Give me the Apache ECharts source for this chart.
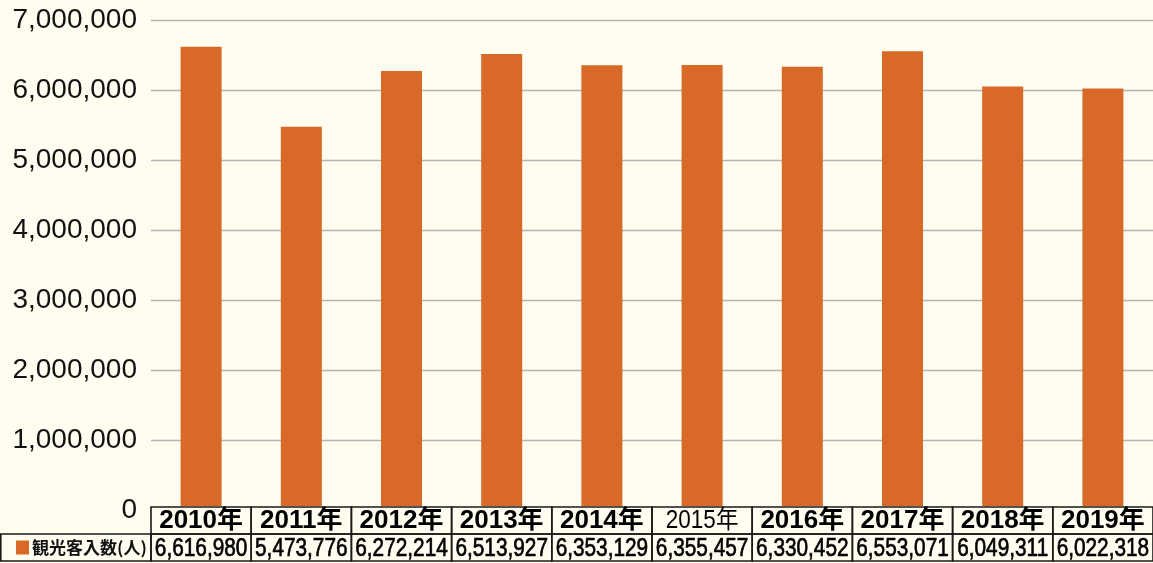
<!DOCTYPE html>
<html>
<head>
<meta charset="utf-8">
<script src="https://cdn.jsdelivr.net/npm/echarts@6/dist/echarts.min.js"></script>
<style>
    html, body { margin: 0; padding: 0; background: #FFFDEF; }
    #chart { width: 1153px; height: 563px; }
</style>
</head>
<body>
<div id="chart"></div>
<script>
    var years = ['2010年', '2011年', '2012年', '2013年', '2014年', '2015年', '2016年', '2017年', '2018年', '2019年'];
    var visitors = [6616980, 5473776, 6272214, 6513927, 6353129, 6355457, 6330452, 6553071, 6049311, 6022318];
    var seriesName = '観光客入数(人)';
    var boldYears = [true, true, true, true, true, false, true, true, true, true];

    var BG = '#FFFDEF';
    var BAR = '#D86926';
    var LINE = '#1a1a1a';

    function fmt(v) {
        return String(v).replace(/\B(?=(\d{3})+(?!\d))/g, ',');
    }

    var chart = echarts.init(document.getElementById('chart'));
    chart.setOption({
        backgroundColor: BG,
        animation: false,
        grid: { left: 151, right: 0, top: 20, bottom: 53 },
        legend: {
            left: 16,
            top: 539,
            padding: 0,
            itemWidth: 13,
            itemHeight: 14,
            icon: 'rect',
            data: [seriesName],
            z: 20,
            textStyle: {
                fontFamily: '"Noto Sans CJK JP", sans-serif',
                fontWeight: 'bold',
                fontSize: 17,
                color: '#111',
                padding: [0, 0, 0, -2]
            }
        },
        xAxis: {
            type: 'category',
            data: years,
            axisLine: { show: false },
            axisTick: { show: false },
            axisLabel: { show: false }
        },
        yAxis: {
            type: 'value',
            min: 0,
            max: 7000000,
            interval: 1000000,
            axisLabel: {
                margin: 14,
                fontFamily: '"Liberation Sans", Arial, sans-serif',
                fontSize: 28,
                color: '#111',
                formatter: fmt
            },
            splitLine: { lineStyle: { color: '#b4b4b4', width: 1.3 } }
        },
        series: [{
            name: seriesName,
            type: 'bar',
            barWidth: 41,
            data: visitors,
            itemStyle: { color: BAR }
        }]
    });

    // table under the plot: year row + value row
    function drawTable() {
        var top = 507, mid = 534, bottom = 561;
        var c0 = chart.convertToPixel({ xAxisIndex: 0 }, 0);
        var band = chart.convertToPixel({ xAxisIndex: 0 }, 1) - c0;
        var left = c0 - band / 2;
        var els = [];
        var line = { stroke: LINE, lineWidth: 1.6, fill: null };

        // blank out the strip below the plot (keep the "0" label visible)
        els.push({ type: 'rect', shape: { x: left, y: top - 1, width: 1153 - left, height: mid - top + 1 }, style: { fill: BG }, z: 9 });
        els.push({ type: 'rect', shape: { x: 0, y: mid, width: 1153, height: 563 - mid }, style: { fill: BG }, z: 9 });
        els.push({ type: 'rect', shape: { x: 0.8, y: mid, width: left - 0.8, height: bottom - mid }, style: line, z: 10 });
        years.forEach(function (y, i) {
            var cx = chart.convertToPixel({ xAxisIndex: 0 }, i);
            var x0 = cx - band / 2;
            els.push({ type: 'rect', shape: { x: x0, y: top, width: band, height: mid - top }, style: line, z: 10 });
            els.push({ type: 'rect', shape: { x: x0, y: mid, width: band, height: bottom - mid }, style: line, z: 10 });
            els.push({
                type: 'text', x: cx, y: (top + mid) / 2 + 1, z: 11,
                scaleX: boldYears[i] ? 1.04 : 0.9,
                style: {
                    text: y, fill: '#000', align: 'center', verticalAlign: 'middle',
                    fontFamily: '"Liberation Sans", "Noto Sans CJK JP", sans-serif',
                    fontWeight: boldYears[i] ? 'bold' : 'normal',
                    fontSize: 25
                }
            });
            els.push({
                type: 'text', x: cx, y: (mid + bottom) / 2 + 1, z: 11,
                scaleX: 0.8,
                style: {
                    text: fmt(visitors[i]), fill: '#000', align: 'center', verticalAlign: 'middle',
                    fontFamily: '"Liberation Sans", sans-serif',
                    fontSize: 26,
                    stroke: '#000', lineWidth: 0.7
                }
            });
        });
        chart.setOption({ graphic: { elements: els } });
    }
    drawTable();
</script>
</body>
</html>
